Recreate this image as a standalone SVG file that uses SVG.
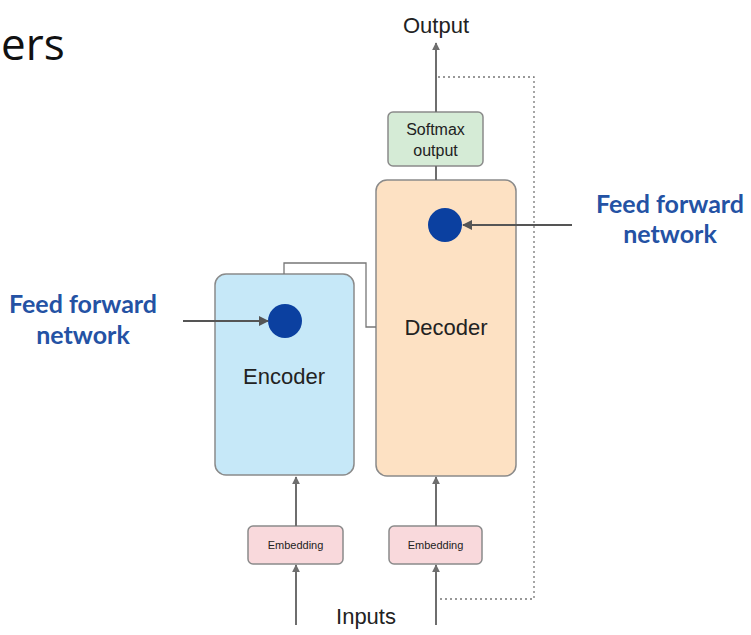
<svg xmlns="http://www.w3.org/2000/svg" width="751" height="635" viewBox="0 0 751 635">
<style>
.box{stroke:#8a8a8a;stroke-width:1.5}
.lbl{font-family:"Liberation Sans",Arial,sans-serif;fill:#222;text-anchor:middle}
.ff{font-family:Lato,"Open Sans",sans-serif;font-weight:bold;font-size:25px;fill:#2452a4;text-anchor:middle}
.ln{stroke:#6e6e6e;stroke-width:2;fill:none}
.thin{stroke:#777;stroke-width:1.3;fill:none}
.dot{fill:#0b40a0}
</style>
<defs>
<marker id="ah" viewBox="0 0 10 10" refX="9" refY="5" markerWidth="4" markerHeight="4" orient="auto"><path d="M0,0 L10,5 L0,10 z" fill="#6e6e6e"/></marker>
<marker id="ahb" viewBox="0 0 10 10" refX="9" refY="5" markerWidth="5" markerHeight="5" orient="auto"><path d="M0,0 L10,5 L0,10 z" fill="#555"/></marker>
</defs>
<rect width="751" height="635" fill="#fff"/>
<text x="1" y="60" font-family="'Open Sans',sans-serif" font-size="44" fill="#111">ers</text>
<g id="output"><text class="lbl" x="436" y="33" font-size="22">Output</text></g>
<g id="softmax">
<rect class="box" x="388" y="112" width="95" height="54" rx="5" fill="#d5ebd6" stroke="#8aa08a"/>
<text class="lbl" x="435.500" y="135" font-size="16">Softmax</text>
<text class="lbl" x="435.500" y="156" font-size="16">output</text>
</g>
<g id="decoder">
<rect class="box" x="376" y="180" width="140" height="296" rx="11" fill="#fde1c3"/>
<text class="lbl" x="446" y="335" font-size="22">Decoder</text>
<circle class="dot" cx="445" cy="225" r="17"/>
</g>
<g id="encoder">
<rect class="box" x="215" y="274" width="139" height="201" rx="11" fill="#c6e8f8"/>
<text class="lbl" x="284" y="384" font-size="22">Encoder</text>
<circle class="dot" cx="285" cy="321" r="17"/>
</g>
<g id="emb1">
<rect class="box" x="248" y="526" width="95" height="38" rx="5" fill="#f9d9dc"/>
<text class="lbl" x="295.500" y="549" font-size="11" fill="#444">Embedding</text>
</g>
<g id="emb2">
<rect class="box" x="389" y="526" width="93" height="38" rx="5" fill="#f9d9dc"/>
<text class="lbl" x="435.500" y="549" font-size="11" fill="#444">Embedding</text>
</g>
<g id="inputs"><text class="lbl" x="366" y="624" font-size="22">Inputs</text></g>
<g id="ff-left">
<text class="ff" x="83" y="313">Feed forward</text>
<text class="ff" x="83" y="344">network</text>
</g>
<g id="ff-right">
<text class="ff" x="670" y="213">Feed forward</text>
<text class="ff" x="670" y="243">network</text>
</g>
<g id="connectors">
<path class="thin" d="M438,77 H534 V599 H437" stroke-dasharray="2,3" stroke="#aaa"/>
<path class="thin" d="M284,274 V263 H366 V327 H376"/>
<line class="ln" x1="436" y1="112" x2="436" y2="43" marker-end="url(#ah)"/>
<line class="ln" x1="436" y1="166" x2="436" y2="180"/>
<line class="ln" x1="296" y1="526" x2="296" y2="477" marker-end="url(#ah)"/>
<line class="ln" x1="436" y1="526" x2="436" y2="477" marker-end="url(#ah)"/>
<line class="ln" x1="296" y1="625" x2="296" y2="565" marker-end="url(#ah)"/>
<line class="ln" x1="436" y1="625" x2="436" y2="565" marker-end="url(#ah)"/>
<line x1="183" y1="321" x2="268" y2="321" stroke="#555" stroke-width="2" marker-end="url(#ahb)"/>
<line x1="572" y1="225" x2="463" y2="225" stroke="#555" stroke-width="2" marker-end="url(#ahb)"/>
</g>
</svg>
